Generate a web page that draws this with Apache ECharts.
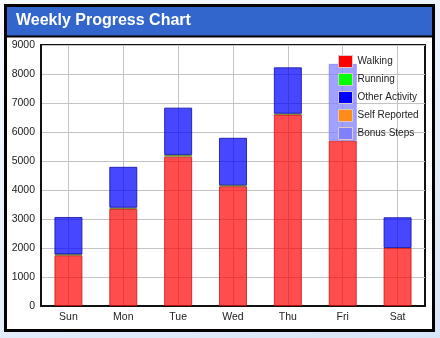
<!DOCTYPE html>
<html>
<head>
<meta charset="utf-8">
<script src="https://cdn.jsdelivr.net/npm/echarts@6/dist/echarts.min.js"></script>
<style>
html,body{margin:0;padding:0;}
body{width:440px;height:338px;background:linear-gradient(160deg,#f7faff 0%,#e4eefb 60%,#d6e5f8 100%);overflow:hidden;}
#c{width:440px;height:338px;}
</style>
</head>
<body>
<div id="c"></div>
<script>
const titleText = 'Weekly Progress Chart';
const days = ['Sun', 'Mon', 'Tue', 'Wed', 'Thu', 'Fri', 'Sat'];
const walking = [1750, 3350, 5150, 4130, 6600, 5700, 2000];
const running = [30, 40, 60, 30, 30, 0, 0];
const otherActivity = [1290, 1410, 1630, 1640, 1600, 0, 1060];
const selfReported = [0, 0, 0, 0, 0, 0, 0];
const bonusSteps = [0, 0, 0, 0, 0, 2650, 0];
const yTicks = [0, 1000, 2000, 3000, 4000, 5000, 6000, 7000, 8000, 9000];

const seriesDefs = [
  {name: 'Walking', data: walking, solid: '#ff0000', fill: 'rgba(255,0,0,0.7)', border: 'rgba(200,20,20,0.8)'},
  {name: 'Running', data: running, solid: '#00ff00', fill: 'rgba(0,200,0,0.7)', border: 'rgba(110,130,40,0.9)'},
  {name: 'Other Activity', data: otherActivity, solid: '#0000ff', fill: 'rgba(0,0,255,0.72)', border: 'rgba(20,20,170,0.85)'},
  {name: 'Self Reported', data: selfReported, solid: '#ff8c1a', fill: 'rgba(255,140,26,0.7)', border: 'rgba(190,110,40,0.9)'},
  {name: 'Bonus Steps', data: bonusSteps, solid: '#8080ff', fill: 'rgba(128,128,255,0.75)', border: 'rgba(128,128,255,0.75)'}
];

const chart = echarts.init(document.getElementById('c'), null, {renderer: 'canvas'});
chart.setOption({
  animation: false,
  backgroundColor: 'transparent',
  graphic: [
    {type: 'rect', z: -10, shape: {x: 5.5, y: 5.5, width: 428, height: 325}, style: {fill: '#ffffff', stroke: '#000', lineWidth: 3}},
    {type: 'rect', z: -9, shape: {x: 7, y: 7, width: 425, height: 29}, style: {fill: '#3366cc'}},
    {type: 'line', z: -8, shape: {x1: 7, y1: 36.5, x2: 432, y2: 36.5}, style: {stroke: '#000', lineWidth: 2}},
    {type: 'text', z: -7, left: 16, top: 13, style: {text: titleText, fill: '#fff', font: 'bold 16px "Liberation Sans", Arial, sans-serif'}}
  ],
  legend: {
    orient: 'vertical',
    left: 333,
    top: 50,
    itemWidth: 14,
    itemHeight: 12,
    itemGap: 5,
    textStyle: {fontSize: 10, color: '#222', fontFamily: '"Liberation Sans", Arial, sans-serif'},
    data: seriesDefs.map(s => ({name: s.name, icon: 'rect', itemStyle: {color: s.solid, borderColor: '#d8c8c8', borderWidth: 1}}))
  },
  grid: {left: 41, right: 15, top: 45, bottom: 32, show: true, borderColor: '#111', borderWidth: 2, backgroundColor: 'transparent'},
  xAxis: {
    type: 'category',
    data: days,
    boundaryGap: true,
    axisLine: {show: true, lineStyle: {color: '#111', width: 2}},
    axisTick: {show: false},
    axisLabel: {fontSize: 10.5, color: '#222', margin: 6, fontFamily: '"Liberation Sans", Arial, sans-serif'},
    splitLine: {show: true, alignWithLabel: true, lineStyle: {color: '#c4c4c4', width: 1}}
  },
  yAxis: {
    type: 'value',
    min: yTicks[0],
    max: yTicks[yTicks.length - 1],
    interval: yTicks[1] - yTicks[0],
    axisLine: {show: true, lineStyle: {color: '#111', width: 2}},
    axisTick: {show: false},
    axisLabel: {fontSize: 10.5, color: '#222', margin: 6, fontFamily: '"Liberation Sans", Arial, sans-serif', formatter: v => String(v)},
    splitLine: {show: true, lineStyle: {color: '#c4c4c4', width: 1}}
  },
  series: seriesDefs.map(s => ({
    name: s.name,
    type: 'bar',
    stack: 'total',
    barWidth: 28,
    data: s.data.map(v => v === 0 ? '-' : v),
    itemStyle: {color: s.fill, borderColor: s.border, borderWidth: 1},
    z: 1
  }))
});
</script>
</body>
</html>
